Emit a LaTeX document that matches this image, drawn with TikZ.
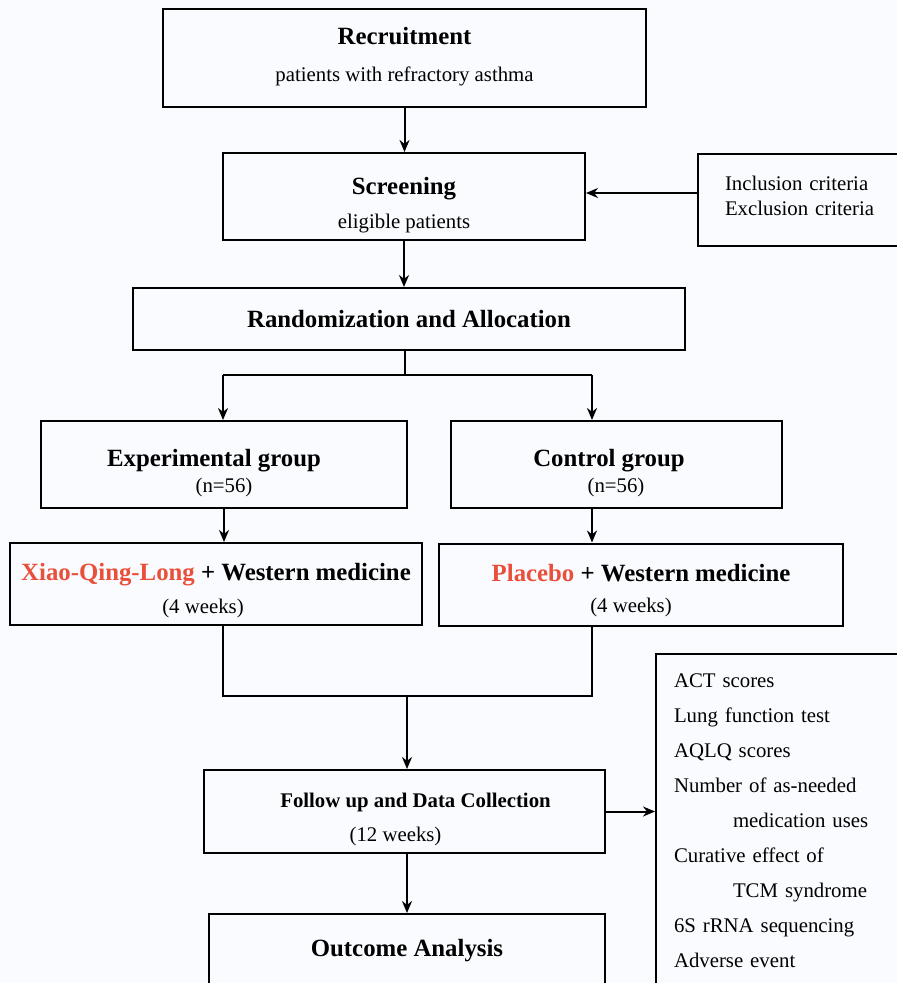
\documentclass[tikz,border=0pt]{standalone}
\usepackage{fontspec}
\setmainfont{Liberation Serif}
\usepackage{tikz}
\usetikzlibrary{arrows.meta}
\usepackage{xcolor}
\definecolor{herbred}{HTML}{E94F3A}
\definecolor{paper}{HTML}{FAFBFE}
\newcommand{\ttl}{\fontsize{12.4}{14}\selectfont\bfseries}
\newcommand{\txt}{\fontsize{10.4}{12.5}\selectfont}
\newcommand{\lift}[1]{\rule{0pt}{#1}}

\begin{document}
\begin{tikzpicture}[x=0.5pt, y=-0.5pt, >={Stealth[length=6pt,width=5pt]},
  box/.style={draw, line width=1pt, align=center, font=\txt, inner sep=0pt},
  link/.style={line width=1pt}]
\useasboundingbox (0,0) rectangle (897,983);
\clip (0,0) rectangle (897,983);
\fill[paper] (0,0) rectangle (897,983);

% stages
\node[box, minimum width=241.5pt, minimum height=49pt] (rec) at (404.5,58) {{\ttl Recruitment}\\[6pt] patients with refractory asthma\rule[-4pt]{0pt}{4pt}};
\node[box, minimum width=181pt, minimum height=43.5pt] (scr) at (404,196.5) {{\ttl\lift{17.5pt}Screening}\\[4.5pt] eligible patients};
\node[box, anchor=north west, align=left, minimum height=46pt, text width=95pt, inner xsep=13.5pt] (incl) at (697,153) {Inclusion criteria\\ Exclusion criteria\rule[-4pt]{0pt}{4pt}};
\node[box, minimum width=276pt, minimum height=31pt] (rand) at (409,319) {\ttl Randomization and Allocation};

% groups
\node[box, minimum width=183pt, minimum height=43.5pt] (exp) at (224,464.5) {{\ttl\lift{17.5pt}Experimental group\hspace*{10pt}}\\[0.5pt] (n=56)};
\node[box, minimum width=165.5pt, minimum height=43.5pt] (ctl) at (616,464.5) {{\ttl\lift{17.5pt}Control group\hspace*{7pt}}\\[0.5pt] (n=56)};
\node[box, minimum width=206pt, minimum height=41pt] (xql) at (216,584) {{\ttl\lift{15.5pt}\textcolor{herbred}{Xiao-Qing-Long} + Western medicine}\\[4pt] (4 weeks)\hspace*{13pt}};
\node[box, minimum width=202pt, minimum height=41pt] (plc) at (641,584.5) {{\ttl\lift{14.5pt}\textcolor{herbred}{Placebo} + Western medicine}\\[3pt] (4 weeks)\hspace*{10pt}};

% follow up
\node[box, minimum width=200.5pt, minimum height=41.5pt] (fu) at (404.5,811.5) {{\bfseries\lift{15pt}\hspace*{11pt}Follow up and Data Collection}\\[4.5pt] (12 weeks)\hspace*{9pt}};
\node[box, anchor=north west, align=left, text width=110pt, inner xsep=9pt, inner ysep=10pt] (out) at (655,653) {ACT scores\\[5pt] Lung function test\\[5pt] AQLQ scores\\[5pt] Number of as-needed\\[5pt] \hspace*{29.5pt}medication uses\\[5pt] Curative effect of\\[5pt] \hspace*{29.5pt}TCM syndrome\\[5pt] 6S rRNA sequencing\\[5pt] Adverse event\rule[-12pt]{0pt}{12pt}};
\node[box, anchor=north, minimum width=198pt, inner ysep=12.8pt, text depth=25pt] (oa) at (407,913) {\ttl Outcome Analysis};

% arrows
\draw[link,->] (rec.south) -- (rec.south |- scr.north);
\coordinate (inArr) at (697,193);
\draw[link,->] (inArr) -- (inArr -| scr.east);
\draw[link,->] (scr.south) -- (scr.south |- rand.north);

\coordinate (fork) at (405,375);
\coordinate (forkL) at (223,375);
\coordinate (forkR) at (592,375);
\draw[link] (fork |- rand.south) -- (fork);
\draw[link] (forkL) -- (forkR);
\draw[link,->] (forkL) -- (forkL |- exp.north);
\draw[link,->] (forkR) -- (forkR |- ctl.north);
\draw[link,->] (exp.south) -- (exp.south |- xql.north);
\draw[link,->] (forkR |- ctl.south) -- (forkR |- plc.north);

\coordinate (join) at (407,696);
\draw[link] (forkL |- xql.south) |- (join -| forkR) -- (forkR |- plc.south);
\draw[link,->] (join) -- (join |- fu.north);
\draw[link,->] (fu.east) -- (fu.east -| out.west);
\draw[link,->] (join |- fu.south) -- (join |- oa.north);
\end{tikzpicture}
\end{document}
